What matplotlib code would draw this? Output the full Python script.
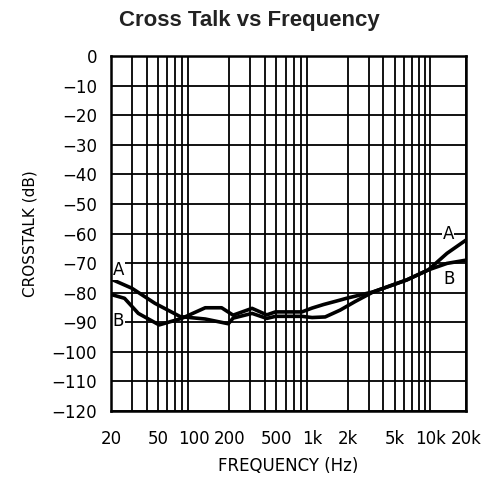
import numpy as np
import matplotlib
matplotlib.use("Agg")
import matplotlib.pyplot as plt

# Channel-to-channel crosstalk, read per curve (Hz, dB)
freq_a = [20, 30, 47, 77, 125, 196, 215, 311, 414, 490, 820, 1000, 1290, 1725, 2310, 3300, 6300, 9600, 13800, 20000]
xtalk_a = [-75.4, -78.5, -83.6, -88.1, -88.9, -90.5, -88.6, -87.0, -88.7, -88.0, -88.0, -88.4, -88.2, -85.9, -83.0, -79.7, -75.7, -72.3, -66.7, -62.2]

freq_b = [20, 26, 34, 51, 79, 125, 172, 215, 311, 414, 490, 820, 1000, 1250, 1725, 1950, 3300, 6300, 9600, 13800, 20000]
xtalk_b = [-80.6, -81.9, -87.0, -90.9, -88.7, -85.1, -85.1, -87.6, -85.3, -87.5, -86.5, -86.5, -85.2, -84.0, -82.5, -81.9, -79.7, -75.7, -72.3, -70.1, -69.0]

grid_freqs = [f * d for d in (10, 100, 1000) for f in range(2, 10)] + [10000, 20000]
tick_freqs = [20, 50, 100, 200, 500, 1000, 2000, 5000, 10000, 20000]
tick_labels = ["20", "50", "100", "200", "500", "1k", "2k", "5k", "10k", "20k"]
db_ticks = list(range(0, -130, -10))

fig = plt.figure(figsize=(4.87, 4.93), dpi=100)
ax = fig.add_axes([0.228, 0.1663, 0.729, 0.7201])

ax.set_xscale("log")
ax.set_xlim(20, 20000)
ax.set_ylim(-120, 0)

for f in grid_freqs:
    ax.axvline(f, color="black", lw=1.3, zorder=1)
for d in db_ticks:
    ax.axhline(d, color="black", lw=1.3, zorder=1)

ax.plot(freq_a, xtalk_a, color="black", lw=2.6, solid_joinstyle="round", zorder=3)
ax.plot(freq_b, xtalk_b, color="black", lw=2.6, solid_joinstyle="round", zorder=3)

lab = dict(fontsize=12, ha="center", va="center", zorder=4,
           bbox=dict(facecolor="white", edgecolor="none", pad=0.5))
ax.text(23.2, -72.5, "A", **lab)
ax.text(23.0, -89.5, "B", **lab)
ax.text(14100, -60, "A", **lab)
ax.text(14400, -75.5, "B", **lab)

ax.set_xticks(tick_freqs)
ax.set_xticklabels(tick_labels)
ax.xaxis.set_minor_locator(matplotlib.ticker.NullLocator())
ax.set_yticks(db_ticks)
ax.set_yticklabels([str(d).replace("-", "\u2212") for d in db_ticks])
ax.tick_params(axis="both", length=0, labelsize=12)
ax.tick_params(axis="x", pad=14)
ax.tick_params(axis="y", pad=10)

for s in ax.spines.values():
    s.set_linewidth(1.8)
    s.set_zorder(5)

ax.set_xlabel("FREQUENCY (Hz)", fontsize=12, labelpad=6)
ax.set_ylabel("CROSSTALK (dB)", fontsize=11, labelpad=10)
fig.text(0.513, 0.958, "Cross Talk vs Frequency", fontsize=16, fontweight="bold",
         family="Liberation Sans", ha="center", va="center", color="#222222")

fig.savefig("out.png", dpi=100)
